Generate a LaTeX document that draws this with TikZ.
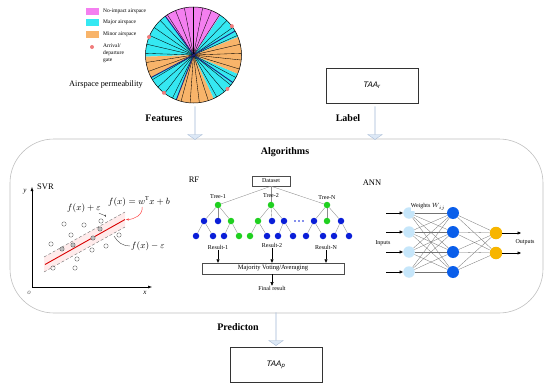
\documentclass[tikz,border=0pt]{standalone}
\usepackage{fontspec}
\setmainfont{Liberation Serif}
\newfontfamily\arialfont{Liberation Sans}
\usetikzlibrary{shapes.arrows,arrows.meta,calc}
\definecolor{pinkA}{HTML}{F47FF0}
\definecolor{cyanA}{HTML}{35E8F2}
\definecolor{orangeA}{HTML}{F8B46A}
\definecolor{navyA}{HTML}{1A237E}
\definecolor{gateA}{HTML}{F07C7C}
\definecolor{treeblue}{HTML}{0A1ED8}
\definecolor{treegreen}{HTML}{20D020}
\definecolor{inA}{HTML}{C6E6FA}
\definecolor{hidA}{HTML}{0A5EEA}
\definecolor{outA}{HTML}{F7B500}
\definecolor{arrfill}{HTML}{DCE8F6}
\definecolor{arrdraw}{HTML}{A9BCD6}
\tikzset{
  fs/.style={font=\fontsize{#1}{#1}\selectfont},
  bigarr/.style={single arrow, draw=arrdraw, fill=arrfill, shape border rotate=270,
     minimum width=9pt, single arrow head extend=7pt, single arrow tip angle=110, inner sep=0pt, anchor=center},
  heading/.style={font=\fontsize{10}{10}\selectfont\bfseries},
  taabox/.style={draw=black!80, minimum width=92pt, minimum height=35pt, inner sep=0pt, font=\fontsize{8}{8}\selectfont\arialfont\itshape},
  tnb/.style={circle, fill=treeblue, minimum size=6.5pt, inner sep=0pt},
  tng/.style={circle, fill=treegreen, minimum size=6.5pt, inner sep=0pt},
  tedge/.style={draw=black!45, line width=0.35pt},
  pt/.style={circle, draw=black!60, line width=0.35pt, minimum size=4.4pt, inner sep=0pt},
  ptf/.style={pt, fill=black!25},
  smalltxt/.style={font=\fontsize{6}{6}\selectfont, inner sep=0.5pt},
  neuron/.style={circle, minimum size=12pt, inner sep=0pt},
  nedge/.style={draw=black!55, line width=0.3pt},
  sarrow/.style={-{Triangle[length=3.5pt,width=3pt]}, line width=0.5pt},
}
\begin{document}
\begin{tikzpicture}[x=1pt,y=-1pt]
\useasboundingbox (0,0) rectangle (550,388);

% ---------- pie chart ----------
\begin{scope}[shift={(193.5,55)}, y=1pt]
  \foreach \a/\b/\c in {22/56/cyanA, 56/126/pinkA, 126/182/cyanA, 182/208/orangeA, 208/249/cyanA, 249/295/orangeA, 295/337/cyanA, 337/382/orangeA}
    \fill[\c] (0,0) -- (\a:48pt) arc[start angle=\a, end angle=\b, radius=48pt] -- cycle;
  \foreach \a in {2,13,...,357}
    \draw[line width=0.35pt] (0,0) -- (\a:48pt);
  \foreach \a in {30,126,208,249,325}
    \draw[navyA, line width=0.9pt] (0,0) -- (\a:48pt);
  \draw[line width=0.5pt] (0,0) circle[radius=48pt];
  \foreach \a in {37,158,232,315}
    \fill[gateA] (\a:48pt) circle[radius=2pt];
\end{scope}

% legend
\fill[pinkA] (86,8) rectangle (99,15);
\fill[cyanA] (86,19) rectangle (99,26);
\fill[orangeA] (86,31) rectangle (99,38);
\fill[gateA] (92,47) circle[radius=2pt];
\node[font=\fontsize{5.5}{5.5}\selectfont, anchor=west, inner sep=0] (lg1) at (103,11.5) {No-impact airspace};
\node[font=\fontsize{5.5}{5.5}\selectfont, anchor=west, inner sep=0] (lg2) at (103,22.5) {Major airspace};
\node[font=\fontsize{5.5}{5.5}\selectfont, anchor=west, inner sep=0] (lg3) at (103,34.5) {Minor airspace};
\node[font=\fontsize{5.5}{6.8}\selectfont, anchor=north west, inner sep=0, align=left] (lg4) at (103,43.5) {Arrival/\\departure\\gate};
\node[font=\fontsize{8.3}{8.3}\selectfont, inner sep=0] (perm) at (106,85) {Airspace permeability};

% ---------- TAA_r ----------
\node[taabox] (taar) at (372,85.5) {TAA\textsubscript{r}};

% ---------- algorithms frame ----------
\draw[black!25, line width=0.6pt, rounded corners=44pt] (10,139) rectangle (543,313);
\node[heading] (alg) at (285,152) {Algorithms};

% feature / label arrows
\node[bigarr, minimum height=33pt] (featarr) at (195,123) {};
\node[heading] (feat) at (164,118) {Features};
\node[bigarr, minimum height=33pt] (labarr) at (375,123) {};
\node[heading] (lab) at (348,118) {Label};

% ---------- SVR ----------
\node[font=\fontsize{8.5}{8.5}\selectfont, anchor=west, inner sep=0] (svr) at (37,187) {SVR};
\coordinate (orig) at (32,287);
\coordinate (ytop) at (32,187);
\coordinate (xend) at (152,287);
\draw[line width=0.5pt, -{Latex[length=4pt,width=3pt]}] (orig) -- (ytop);
\draw[line width=0.5pt, -{Latex[length=4pt,width=3pt]}] (orig) -- (xend);
\node[font=\fontsize{7}{7}\selectfont\itshape, inner sep=0] (ylab) at (25,192) {y};
\node[font=\fontsize{7}{7}\selectfont\itshape, inner sep=0] (xlab) at (145,293) {x};
\node[font=\fontsize{7}{7}\selectfont\itshape, inner sep=0, text=black!60] (olab) at (29,293) {o};
\fill[red!8] (44,257) -- (125,212) -- (125,227) -- (44,272) -- cycle;
\draw[black!55, densely dashed, line width=0.4pt] (44,257) -- (125,212);
\draw[black!55, densely dashed, line width=0.4pt] (44,272) -- (125,227);
\draw[red!85!black, line width=0.9pt] (45,264.5) -- (125,219.5);
\foreach \x/\y [count=\i] in {64/224,84/225,101/221,71/235,119/235,51/244,106/246,92/250,77/259,53/268,75/268}
  \node[pt] (p\i) at (\x,\y) {};
\foreach \x/\y [count=\i] in {62/249,73/245,93/238,100/229}
  \node[ptf] (q\i) at (\x,\y) {};
\node[font=\fontsize{9}{9}\selectfont, inner sep=0] (fpe) at (84,208.5) {$f(x)+\varepsilon$};
\node[font=\fontsize{9}{9}\selectfont, inner sep=0] (fx) at (139,202) {$f(x)=w^{\mathrm{T}}x+b$};
\node[font=\fontsize{9}{9}\selectfont, inner sep=0] (fme) at (148,246) {$f(x)-\varepsilon$};
\coordinate (c1) at (106,217);
\coordinate (c2) at (126,219.5);
\coordinate (c3) at (114,236);
\draw[black!70, line width=0.4pt, -{Stealth[length=2.5pt]}] (fpe.south east) ++(-2,0) to[out=-40, in=120] (c1);
\draw[red!75, line width=0.5pt, -{Stealth[length=3pt]}] (142,207) to[out=-80, in=0] (c2);
\draw[black!70, line width=0.4pt] (fme.west) ++(-1,0) to[out=180, in=-60] (c3);

% ---------- RF ----------
\node[font=\fontsize{8.5}{8.5}\selectfont, inner sep=0] (rf) at (194,180) {RF};
\node[draw=black!70, line width=0.4pt, fs=6, minimum width=38pt, minimum height=10pt, inner sep=0] (ds) at (271,181) {Dataset};
% tree 1
\node[tng] (t1) at (218,205) {};
\node[tnb] (t1a) at (204,221) {};
\node[tnb] (t1b) at (218,221) {};
\node[tng] (t1c) at (231,221) {};
\node[tnb] (t1aa) at (196,236) {};
\node[tnb] (t1ab) at (213,236) {};
\node[tnb] (t1ca) at (224,236) {};
\node[tng] (t1cb) at (239,236) {};
% tree 2
\node[tng] (t2) at (271,205) {};
\node[tng] (t2a) at (258,221) {};
\node[tnb] (t2b) at (272,221) {};
\node[tnb] (t2c) at (284,221) {};
\node[tng] (t2aa) at (250,236) {};
\node[tnb] (t2ab) at (267,236) {};
\node[tnb] (t2ca) at (278,236) {};
\node[tnb] (t2cb) at (293,236) {};
% tree N
\node[tng] (t3) at (327,205) {};
\node[tnb] (t3a) at (314,221) {};
\node[tng] (t3b) at (327,221) {};
\node[tnb] (t3c) at (341,221) {};
\node[tnb] (t3aa) at (306,236) {};
\node[tnb] (t3ab) at (323,236) {};
\node[tnb] (t3ca) at (334,236) {};
\node[tnb] (t3cb) at (349,236) {};
\begin{scope}[on background layer/.style={}]
\foreach \t in {t1,t2,t3}{
  \draw[tedge] (ds.south) -- (\t);
  \draw[tedge] (\t) -- (\t a);
  \draw[tedge] (\t) -- (\t b);
  \draw[tedge] (\t) -- (\t c);
  \draw[tedge] (\t a) -- (\t aa);
  \draw[tedge] (\t a) -- (\t ab);
  \draw[tedge] (\t c) -- (\t ca);
  \draw[tedge] (\t c) -- (\t cb);
}
\end{scope}
\foreach \x in {295,299,303}
  \fill[treeblue] (\x,221) circle[radius=0.9pt];
\node[smalltxt] (tr1) at (218,197) {Tree-1};
\node[smalltxt] (tr2) at (271,196) {Tree-2};
\node[smalltxt] (tr3) at (327,198) {Tree-N};
\node[smalltxt] (r1) at (218,247) {Result-1};
\node[smalltxt] (r2) at (272,245.5) {Result-2};
\node[smalltxt] (r3) at (326,247) {Result-N};
\node[draw=black!70, line width=0.4pt, font=\fontsize{6.5}{6.5}\selectfont, minimum width=142pt, minimum height=11pt, inner sep=0] (mv) at (273,268.5) {Majority Voting/Averaging};
\node[smalltxt] (fr) at (272,288.5) {Final result};
\draw[sarrow] (r1.south) -- (r1.south |- mv.north);
\draw[sarrow] (r2.south) -- (r2.south |- mv.north);
\draw[sarrow] (r3.south) -- (r3.south |- mv.north);
\draw[sarrow] (mv.south -| fr.north) -- (fr.north);

% ---------- ANN ----------
\node[font=\fontsize{8.5}{8.5}\selectfont, inner sep=0] (ann) at (372,183) {ANN};
\foreach \y [count=\i] in {213,232,252,272}{
  \node[neuron, fill=inA, minimum size=11.5pt] (in\i) at (409,\y) {};
  \node[neuron, fill=hidA] (h\i) at (453,\y) {};
}
\node[neuron, fill=outA, minimum size=12.5pt] (o1) at (496,233) {};
\node[neuron, fill=outA, minimum size=12.5pt] (o2) at (496,253) {};
\foreach \i in {1,...,4}{
  \foreach \j in {1,...,4}
    \draw[nedge] (in\i) -- (h\j);
  \foreach \j in {1,2}
    \draw[nedge] (h\i) -- (o\j);
}
\foreach \i in {1,...,4}{
  \coordinate (ia\i) at ($(in\i)+(-23,0)$);
  \draw[sarrow] (ia\i) -- (in\i.west);
}
\foreach \i in {1,2}{
  \coordinate (oa\i) at ($(o\i)+(25,0)$);
  \draw[sarrow] (o\i.east) -- (oa\i);
}
\node[smalltxt] (inl) at (383,243) {Inputs};
\node[smalltxt] (outl) at (525,242) {Outputs};
\node[smalltxt, fill=white, inner sep=0.3pt] (wl) at (428,207) {Weights $W_{ij}$};

% ---------- prediction ----------
\node[bigarr, minimum height=33pt] (predarr) at (276,329) {};
\node[heading] (pred) at (238,327) {Predicton};
\node[taabox] (taap) at (276,364.5) {TAA\textsubscript{p}};
\end{tikzpicture}
\end{document}
